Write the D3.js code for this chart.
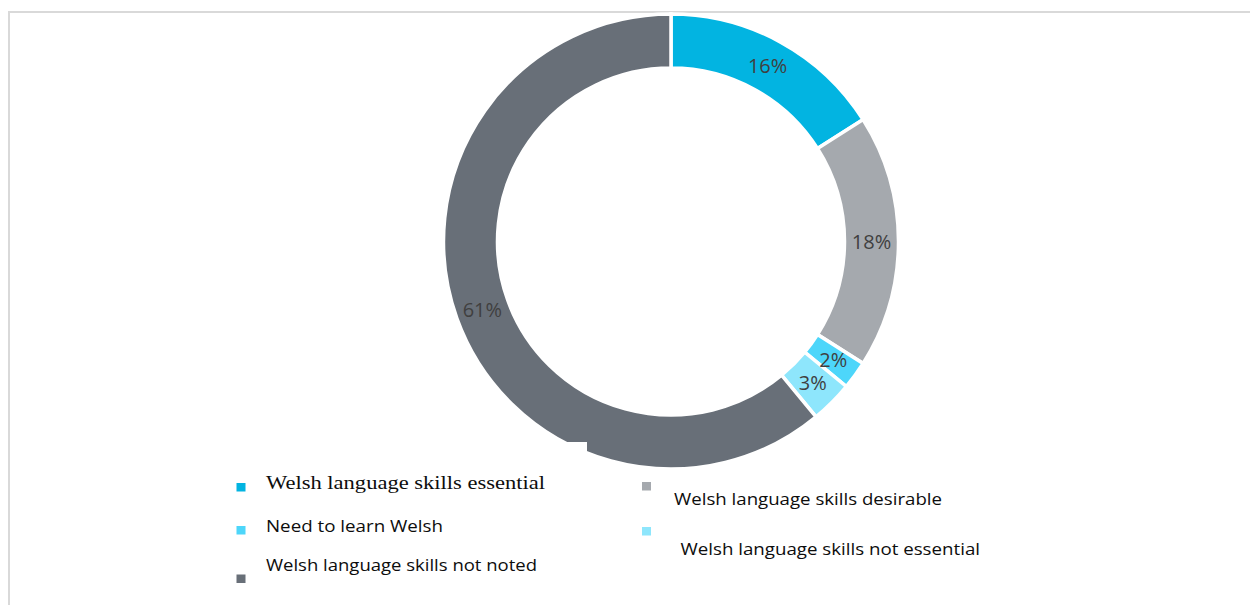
<!DOCTYPE html>
<html>
<head>
<meta charset="utf-8">
<script src="https://cdn.jsdelivr.net/npm/d3@7/dist/d3.min.js"></script>
<style>
  html, body { margin: 0; padding: 0; background: #fff; }
  svg { display: block; }
</style>
</head>
<body>
<svg id="chart" width="1250" height="605"></svg>
<script>
// Job advertisements by Welsh language requirement (share of total)
const categories = [
  "Welsh language skills essential",
  "Welsh language skills desirable",
  "Need to learn Welsh",
  "Welsh language skills not essential",
  "Welsh language skills not noted"
];
const shares = [16, 18, 2, 3, 61];
const colors = ["#02b4e1", "#a5a9ae", "#4dd6fa", "#8ee6fc", "#686f78"];
const valueLabels = ["16%", "18%", "2%", "3%", "61%"];

const svg = d3.select("#chart");

// frame
svg.append("line").attr("x1", 8).attr("x2", 1250).attr("y1", 12).attr("y2", 12)
  .attr("stroke", "#d9d9d9").attr("stroke-width", 2);
svg.append("line").attr("x1", 9).attr("x2", 9).attr("y1", 11).attr("y2", 605)
  .attr("stroke", "#d9d9d9").attr("stroke-width", 2);

const cx = 671, cy = 241.5, outerR = 227.5, innerR = 173.5;

const pie = d3.pie().sort(null).value(d => d)(shares);
const arc = d3.arc().innerRadius(innerR).outerRadius(outerR);
const labelArc = d3.arc().innerRadius((innerR + outerR) / 2).outerRadius((innerR + outerR) / 2);

const g = svg.append("g").attr("transform", `translate(${cx},${cy})`);

g.selectAll("path.slice")
  .data(pie)
  .join("path")
  .attr("class", "slice")
  .attr("d", arc)
  .attr("fill", (d, i) => colors[i])
  .attr("stroke", "#fff")
  .attr("stroke-width", 3.5)
  .attr("stroke-linejoin", "miter");

g.selectAll("text.val")
  .data(pie)
  .join("text")
  .attr("class", "val")
  .attr("transform", d => `translate(${labelArc.centroid(d)})`)
  .attr("text-anchor", "middle")
  .attr("dy", "0.36em")
  .attr("font-family", "'Open Sans', Lato, sans-serif")
  .attr("font-size", 20)
  .attr("fill", "#404040")
  .text((d, i) => valueLabels[i]);

// legend panel (its background sits over the ring's lower-left edge)
svg.append("rect").attr("x", 225).attr("y", 442).attr("width", 362).attr("height", 160)
  .attr("fill", "#fff");

const legendItems = [
  { i: 0, mx: 236.5, my: 483, tx: 266, ty: 489, w: 279, serif: true },
  { i: 1, mx: 642, my: 482, tx: 674, ty: 505, w: 268, serif: false },
  { i: 2, mx: 236.5, my: 526, tx: 266, ty: 532, w: 177, serif: false },
  { i: 3, mx: 642, my: 527, tx: 680.5, ty: 555, w: 299.5, serif: false },
  { i: 4, mx: 236.5, my: 574.5, tx: 266, ty: 571, w: 271, serif: false }
];

const legend = svg.append("g").attr("class", "legend");
legend.selectAll("rect.key")
  .data(legendItems)
  .join("rect")
  .attr("class", "key")
  .attr("x", d => d.mx).attr("y", d => d.my)
  .attr("width", 9).attr("height", 8.5)
  .attr("fill", d => colors[d.i]);

legend.selectAll("text.name")
  .data(legendItems)
  .join("text")
  .attr("class", "name")
  .attr("x", d => d.tx).attr("y", d => d.ty)
  .attr("font-family", d => d.serif ? "'Liberation Serif', 'DejaVu Serif', serif" : "'Open Sans', Lato, sans-serif")
  .attr("font-size", d => d.serif ? 18.5 : 17)
  .attr("fill", "#0d0d0d")
  .attr("textLength", d => d.w)
  .attr("lengthAdjust", "spacingAndGlyphs")
  .text(d => categories[d.i]);
</script>
</body>
</html>
